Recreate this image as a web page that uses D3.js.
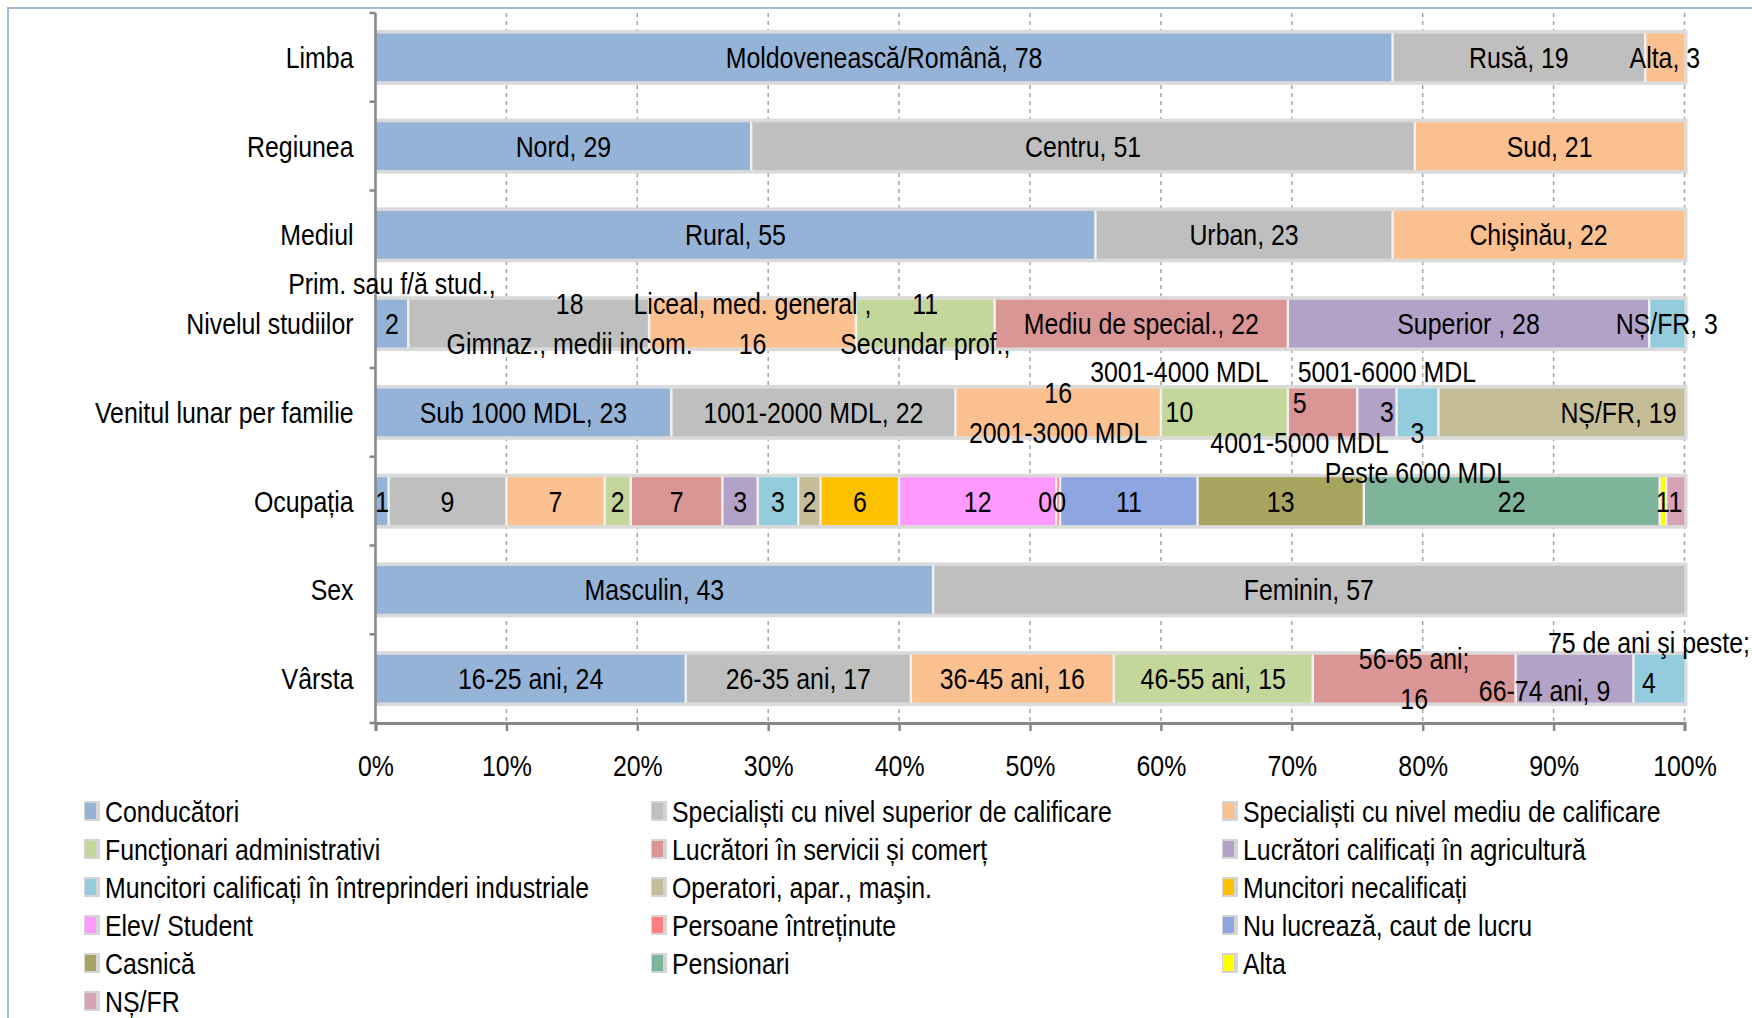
<!DOCTYPE html>
<html lang="ro">
<head>
    <meta charset="UTF-8">
    <title>Profilul respondentilor</title>
    <style type="text/css">
        body { margin: 0; background: #fff; }
        svg text {
            font-family: "Liberation Sans", Arial, sans-serif;
            font-size: 30px;
            fill: #000;
        }
    </style>
</head>
<body>

<svg width="1752" height="1018"></svg>

<script src="https://d3js.org/d3.v7.min.js"></script>

<script>
    // rows of the chart, top to bottom
    var categories = ["Limba", "Regiunea", "Mediul", "Nivelul studiilor",
        "Venitul lunar per familie", "Ocupația", "Sex", "Vârsta"];

    // legend / series (Excel series order)
    var seriesNames = ["Conducători", "Specialiști cu nivel superior de calificare",
        "Specialiști cu nivel mediu de calificare", "Funcţionari administrativi",
        "Lucrători în servicii și comerț", "Lucrători calificați în agricultură",
        "Muncitori calificați în întreprinderi industriale", "Operatori, apar., maşin.",
        "Muncitori necalificați", "Elev/ Student", "Persoane întreținute",
        "Nu lucrează, caut de lucru", "Casnică", "Pensionari", "Alta", "NȘ/FR"];

    var seriesColors = ["#95B3D7", "#BFBFBF", "#FAC090", "#C4D79B", "#DA9694", "#B3A2C7",
        "#93CDDD", "#C4BD97", "#FFC000", "#FF99FF", "#FF8080", "#8EA5E0",
        "#A6A45E", "#7EB49A", "#FFFF00", "#D6A2B6"];

    // values (percent)
    var limba = [77.7, 19.3, 3.0];
    var regiunea = [28.7, 50.7, 20.6];
    var mediul = [55.0, 22.7, 22.3];
    var studii = [2.5, 18.4, 15.8, 10.6, 22.4, 27.6, 2.7];
    var venit = [22.6, 21.7, 15.7, 9.7, 5.3, 3.0, 3.2, 18.8];
    var ocupatia = [1, 9, 7.5, 2, 7, 2.7, 3.1, 1.7, 6, 12, 0.3, 10.5, 12.7, 22.6, 0.5, 1.4];
    var sex = [42.6, 57.4];
    var varsta = [23.7, 17.2, 15.5, 15.2, 15.5, 9.0, 3.9];

    // data labels as printed on the chart (arrays = several lines)
    var limbaLabels = ["Moldovenească/Română, 78", "Rusă, 19", "Alta, 3"];
    var regiuneaLabels = ["Nord, 29", "Centru, 51", "Sud, 21"];
    var mediulLabels = ["Rural, 55", "Urban, 23", "Chişinău, 22"];
    var studiiLabels = [["Prim. sau f/ă stud.,", "2"], ["18", "Gimnaz., medii incom."],
        ["Liceal, med. general ,", "16"], ["11", "Secundar prof.,"],
        "Mediu de special., 22", "Superior , 28", "NȘ/FR, 3"];
    var venitLabels = ["Sub 1000 MDL, 23", "1001-2000 MDL, 22", ["16", "2001-3000 MDL"],
        ["3001-4000 MDL", "10"], ["5", "4001-5000 MDL"], ["5001-6000 MDL", "3"],
        ["3", "Peste 6000 MDL"], "NȘ/FR, 19"];
    var ocupatiaLabels = ["1", "9", "7", "2", "7", "3", "3", "2", "6", "12", "00", "11", "13", "22", "1", "1"];
    var sexLabels = ["Masculin, 43", "Feminin, 57"];
    var varstaLabels = ["16-25 ani, 24", "26-35 ani, 17", "36-45 ani, 16", "46-55 ani, 15",
        ["56-65 ani;", "16"], "66-74 ani, 9", ["75 de ani şi peste;", "4"]];

    var xTicks = [0, 0.1, 0.2, 0.3, 0.4, 0.5, 0.6, 0.7, 0.8, 0.9, 1];

    var rows = [limba, regiunea, mediul, studii, venit, ocupatia, sex, varsta];
    var rowLabels = [limbaLabels, regiuneaLabels, mediulLabels, studiiLabels, venitLabels,
        ocupatiaLabels, sexLabels, varstaLabels];

    // labels that were dragged away from the centre of their segment: "row-series": [dx, dy]
    var labelShift = {
        "3-0": [0, -20], "3-1": [41, 0],
        "4-3": [-45, -21], "4-4": [-23, 10], "4-5": [10, -21], "4-6": [0, 40], "4-7": [57, 0],
        "5-10": [-6, 0],
        "7-5": [-30, 12], "7-6": [-10, -16]
    };

    // the original font is a narrow one; squeeze the text horizontally
    var squeeze = 0.83;

    var svg = d3.select("svg"),
            margin = {top: 13, right: 67.5, bottom: 295, left: 375.5},
            width = +svg.attr("width") - margin.left - margin.right,
            height = +svg.attr("height") - margin.top - margin.bottom,
            g = svg.append("g").attr("transform", "translate(" + margin.left + "," + margin.top + ")");

    // chart area border
    svg.append("path")
            .attr("d", "M8,1018V8H1752")
            .attr("fill", "none")
            .attr("stroke", "#A3BADB")
            .attr("stroke-width", 2);

    var keys = d3.range(seriesNames.length);
    var table = rows.map(function (vals, i) {
        var o = {cat: categories[i]};
        keys.forEach(function (k) { o[k] = vals[k] || 0; });
        return o;
    });
    var stacked = d3.stack().keys(keys).offset(d3.stackOffsetExpand)(table);

    var x = d3.scaleLinear().domain([0, 1]).range([0, width]);
    var y = d3.scaleBand().domain(categories).range([0, height])
            .paddingInner(0.46).paddingOuter(0.23);

    // dashed gridlines
    g.append("g")
            .selectAll("line")
            .data(xTicks.slice(1))
            .enter().append("line")
            .attr("x1", function (d) { return x(d); })
            .attr("x2", function (d) { return x(d); })
            .attr("y1", 0)
            .attr("y2", height)
            .attr("stroke", "#A6A6A6")
            .attr("stroke-width", 1.5)
            .attr("stroke-dasharray", "4,4");

    // grey shadow behind each bar, light gaps between segments
    g.append("g")
            .selectAll("rect")
            .data(categories)
            .enter().append("rect")
            .attr("x", 0)
            .attr("y", function (d) { return y(d) - 3.5; })
            .attr("width", width + 3)
            .attr("height", y.bandwidth() + 7)
            .attr("fill", "#DADADA");
    g.append("g")
            .selectAll("rect")
            .data(categories)
            .enter().append("rect")
            .attr("x", 0)
            .attr("y", function (d) { return y(d); })
            .attr("width", width)
            .attr("height", y.bandwidth())
            .attr("fill", "#F2F2F2");

    g.append("g")
            .selectAll("g")
            .data(stacked)
            .enter().append("g")
            .attr("fill", function (d) { return seriesColors[d.key]; })
            .selectAll("rect")
            .data(function (d) { return d.filter(function (p) { return p[1] - p[0] > 0; }); })
            .enter().append("rect")
            .attr("x", function (d) { return x(d[0]) + (d[0] > 0 ? 1.2 : 0); })
            .attr("y", function (d) { return y(d.data.cat); })
            .attr("width", function (d) {
                var w = x(d[1]) - x(d[0]) - (d[0] > 0 ? 1.2 : 0) - (d[1] < 0.9999 ? 1.2 : 0);
                return Math.max(w, 1);
            })
            .attr("height", y.bandwidth());

    // axes
    var yAxis = g.append("g")
            .call(d3.axisLeft(y).tickSize(0).tickPadding(22));
    yAxis.select(".domain").remove();
    yAxis.selectAll("text").attr("dy", "0.35em");

    g.append("g")
            .selectAll("line")
            .data(d3.range(categories.length + 1))
            .enter().append("line")
            .attr("x1", -6)
            .attr("x2", 0)
            .attr("y1", function (i) { return i * y.step(); })
            .attr("y2", function (i) { return i * y.step(); })
            .attr("stroke", "#868686")
            .attr("stroke-width", 2.5);
    g.append("line")
            .attr("x1", 0).attr("x2", 0)
            .attr("y1", 0).attr("y2", height)
            .attr("stroke", "#868686")
            .attr("stroke-width", 2.5);

    var xAxis = g.append("g")
            .attr("transform", "translate(0," + height + ")")
            .call(d3.axisBottom(x).tickValues(xTicks).tickFormat(d3.format(".0%")).tickSize(8));
    xAxis.select(".domain")
            .attr("stroke", "#868686")
            .attr("stroke-width", 3);
    xAxis.selectAll(".tick line")
            .attr("stroke", "#868686")
            .attr("stroke-width", 2.5);
    xAxis.selectAll("text")
            .attr("y", 43)
            .attr("dy", "0.35em");

    // data labels
    var lineH = 40;
    var lab = g.append("g").attr("text-anchor", "middle");
    rowLabels.forEach(function (labels, i) {
        labels.forEach(function (t, j) {
            var p = stacked[j][i];
            var s = labelShift[i + "-" + j] || [0, 0];
            var lines = Array.isArray(t) ? t : [t];
            var cx = (x(p[0]) + x(p[1])) / 2 + s[0];
            var cy = y(categories[i]) + y.bandwidth() / 2 + s[1];
            lines.forEach(function (line, k) {
                lab.append("text")
                        .attr("x", cx)
                        .attr("y", cy + (k - (lines.length - 1) / 2) * lineH)
                        .attr("dy", "0.35em")
                        .text(line);
            });
        });
    });

    // legend, three columns
    var legX = [84, 651, 1222];
    var legend = svg.append("g")
            .selectAll("g")
            .data(seriesNames)
            .enter().append("g")
            .attr("transform", function (d, i) {
                return "translate(" + legX[i % 3] + "," + (811 + Math.floor(i / 3) * 38) + ")";
            });
    legend.append("rect")
            .attr("x", 0).attr("y", -10)
            .attr("width", 16).attr("height", 20)
            .attr("fill", "#D4D4D4");
    legend.append("rect")
            .attr("x", 1).attr("y", -8)
            .attr("width", 11).attr("height", 16)
            .attr("fill", function (d, i) { return seriesColors[i]; });
    legend.append("text")
            .attr("x", 21)
            .attr("dy", "0.35em")
            .text(function (d) { return d; });

    // squeeze every text around its own anchor point
    svg.selectAll("text").each(function () {
        var t = d3.select(this);
        var tx = +t.attr("x") || 0;
        t.attr("x", tx / squeeze).attr("transform", "scale(" + squeeze + ",1)");
    });
</script>

</body>
</html>
